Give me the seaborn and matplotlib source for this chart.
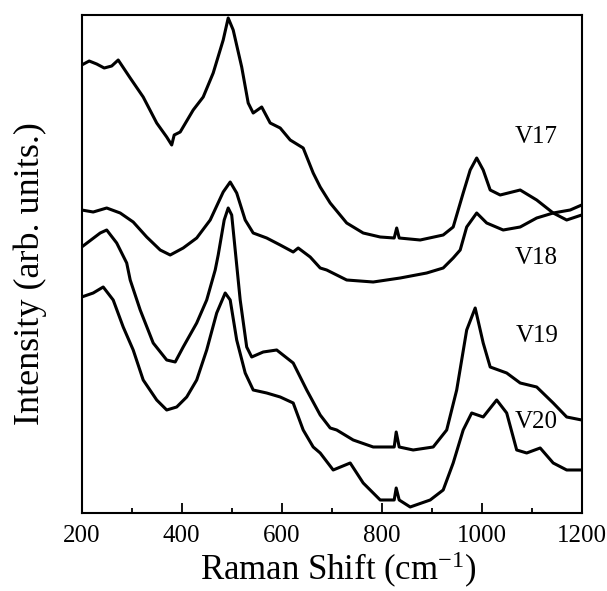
import matplotlib
matplotlib.use("Agg")
import matplotlib.pyplot as plt
import seaborn as sns
import pandas as pd
from matplotlib.ticker import MultipleLocator

# ---- data (intensity in arbitrary units) ----
v17_x = [200, 215, 230, 245, 260, 273, 297, 323, 350, 370, 380, 385, 397, 423, 443, 463, 483, 493, 503, 520, 533,
         543, 560, 577, 597, 617, 643, 663, 677, 697, 730, 763, 797, 825, 830, 835, 877, 923, 943, 963,
         977, 990, 1003, 1017, 1037, 1077, 1110, 1143, 1170, 1200]
v17_y = [448, 452, 449, 445, 447, 453, 435, 416, 390, 376, 368, 378, 381, 403, 416, 440, 473, 495, 483, 446, 410,
         400, 406, 390, 385, 373, 365, 340, 326, 310, 290, 280, 276, 275, 285, 275, 273, 278, 286, 320,
         343, 355, 343, 323, 318, 323, 313, 300, 293, 298]

v18_x = [200, 223, 250, 277, 303, 330, 357, 377, 403, 430, 457, 483, 497, 510, 527, 543, 570, 597, 623,
         633, 657, 677, 690, 730, 783, 837, 890, 923, 943, 957, 970, 990, 1010, 1043, 1077, 1110, 1143,
         1177, 1200]
v18_y = [303, 301, 305, 300, 291, 276, 263, 258, 265, 275, 293, 321, 331, 320, 293, 280, 275, 268, 261,
         265, 256, 245, 243, 233, 231, 235, 240, 245, 255, 263, 286, 300, 290, 283, 286, 295, 300,
         303, 308]

v19_x = [200, 237, 250, 270, 277, 290, 297, 317, 343, 370, 387, 403, 430, 450, 467, 473, 485, 493, 500,
         507, 517, 530, 540, 563, 590, 623, 650, 677, 697, 710, 743, 783, 825, 829, 835, 863, 903, 930,
         950, 970, 987, 1003, 1017, 1050, 1077, 1110, 1143, 1170, 1200]
v19_y = [266, 280, 283, 270, 263, 250, 233, 203, 170, 153, 151, 166, 190, 213, 243, 258, 293, 305, 298,
         263, 213, 166, 156, 161, 163, 150, 123, 98, 85, 83, 73, 66, 66, 81, 66, 63, 66, 83,
         123, 183, 205, 170, 146, 140, 130, 126, 110, 96, 93]

v20_x = [200, 223, 243, 263, 283, 303, 323, 350, 370, 390, 410, 430, 450, 470, 487, 497, 510, 527, 543,
         570, 597, 623, 643, 663, 677, 703, 737, 763, 797, 825, 829, 835, 857, 897, 923, 943, 963, 980,
         1003, 1030, 1050, 1070, 1090, 1117, 1143, 1170, 1200]
v20_y = [216, 220, 226, 213, 186, 163, 133, 113, 103, 106, 116, 133, 163, 200, 220, 213, 173, 140, 123,
         120, 116, 110, 83, 66, 60, 43, 50, 30, 13, 13, 25, 13, 6, 13, 23, 50, 83, 100,
         96, 113, 100, 63, 60, 65, 50, 43, 43]

labels = ["V17", "V18", "V19", "V20"]
label_y = [376, 255, 177, 91]
label_x = 1110
xticks = [200, 400, 600, 800, 1000, 1200]

frames = []
for name, xs, ys in zip(labels, [v17_x, v18_x, v19_x, v20_x], [v17_y, v18_y, v19_y, v20_y]):
    frames.append(pd.DataFrame({"shift": xs, "intensity": ys, "sample": name}))
df = pd.concat(frames, ignore_index=True)

# ---- style ----
sns.set_style("ticks")
plt.rcParams["font.family"] = ["Liberation Serif", "DejaVu Serif"]
plt.rcParams["mathtext.fontset"] = "custom"
plt.rcParams["mathtext.rm"] = "Liberation Serif"
plt.rcParams["mathtext.it"] = "Liberation Serif:italic"
plt.rcParams["text.color"] = "black"
plt.rcParams["axes.labelcolor"] = "black"
plt.rcParams["xtick.color"] = "black"
plt.rcParams["ytick.color"] = "black"

fig = plt.figure(figsize=(6.07, 5.91), dpi=100)
ax = fig.add_axes([0.1346, 0.132, 0.8237, 0.8426])

sns.lineplot(data=df, x="shift", y="intensity", hue="sample", units="sample", estimator=None,
             palette=["black"] * 4, linewidth=2.2, legend=False, ax=ax, sort=False)

for name, ly in zip(labels, label_y):
    ax.text(label_x, ly, name, fontsize=18, ha="center", va="center", color="black")

ax.set_xlim(200, 1200)
ax.set_ylim(0, 498)
ax.set_xticks(xticks)
ax.set_xticklabels([str(t) for t in xticks], fontsize=18, color="black")
ax.xaxis.set_minor_locator(MultipleLocator(100))
ax.set_yticks([])
ax.tick_params(axis="x", which="major", direction="in", length=7, width=1.3, pad=9, top=False, colors="black")
ax.tick_params(axis="x", which="minor", direction="in", length=3.6, width=1.3, top=False, colors="black")
for s in ax.spines.values():
    s.set_visible(True)
    s.set_linewidth(1.5)
    s.set_color("black")

ax.set_xlabel(r"Raman Shift (cm$^{-1}$)", fontsize=25, color="black")
ax.set_ylabel("Intensity (arb. units.)", fontsize=26, color="black")
ax.xaxis.set_label_coords(0.513, -0.074)
ax.yaxis.set_label_coords(-0.07, 0.48)

fig.savefig("out.png", dpi=100)
